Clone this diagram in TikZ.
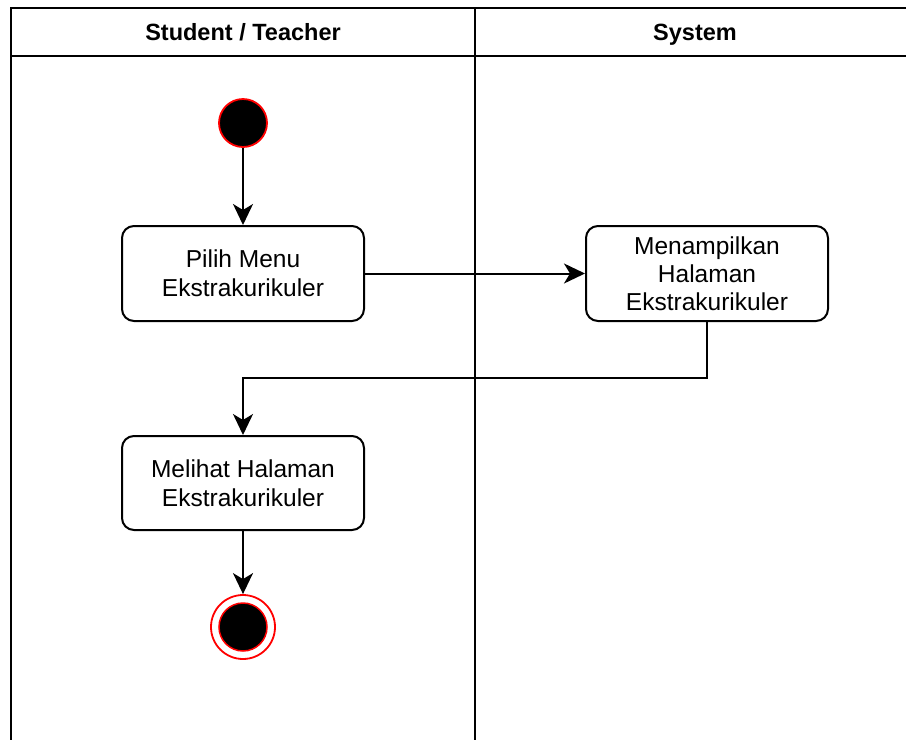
\documentclass[tikz,border=0pt]{standalone}
\usepackage{fontspec}
\setmainfont{Liberation Sans}
\usetikzlibrary{arrows.meta}
\begin{document}
\begin{tikzpicture}[x=1pt,y=-1pt,
  lane/.style={line width=2pt,draw=black},
  act/.style={draw=black,line width=2pt,rounded corners=12pt,minimum width=242pt,minimum height=95pt,align=center,font=\fontsize{24.5}{29}\selectfont,inner sep=0pt},
  hdr/.style={font=\bfseries\fontsize{23.5}{28}\selectfont,text height=17pt,text depth=5pt},
  flow/.style={line width=2pt,-{Stealth[length=21pt,width=20pt,inset=6pt]}},
  startnode/.style={circle,fill=black,draw=red,line width=1.8pt,minimum size=48pt,inner sep=0pt},
]
\useasboundingbox (0,0) rectangle (906,740);
\fill[white] (0,0) rectangle (906,740);
% swimlanes
\draw[lane] (906,8) -- (11,8) -- (11,740);
\draw[lane] (11,56) -- (906,56);
\draw[lane] (475,8) -- (475,740);
\node[hdr] (h1) at (243,34) {Student / Teacher};
\node[hdr] (h2) at (695,34) {System};
% nodes
\node[startnode] (start) at (243,123) {};
\node[act] (a1) at (243,273.5) {Pilih Menu\\Ekstrakurikuler};
\node[act,font=\fontsize{24.5}{28}\selectfont] (a2) at (707,273.5) {Menampilkan\\Halaman\\Ekstrakurikuler};
\node[act,minimum height=94pt] (a3) at (243,483) {Melihat Halaman\\Ekstrakurikuler};
\node[circle,draw=red,fill=white,line width=1.8pt,minimum size=64pt,inner sep=0pt] (endo) at (243,627) {};
\node[circle,draw=red,fill=black,line width=1.5pt,minimum size=48pt,inner sep=0pt] (endi) at (243,627) {};
% flows
\draw[flow] (start) -- (a1);
\draw[flow] (a1) -- (a2);
\draw[flow] (a2.south) |- (475,378) -| (a3.north);
\draw[flow] (a3) -- (endo);
\end{tikzpicture}
\end{document}
